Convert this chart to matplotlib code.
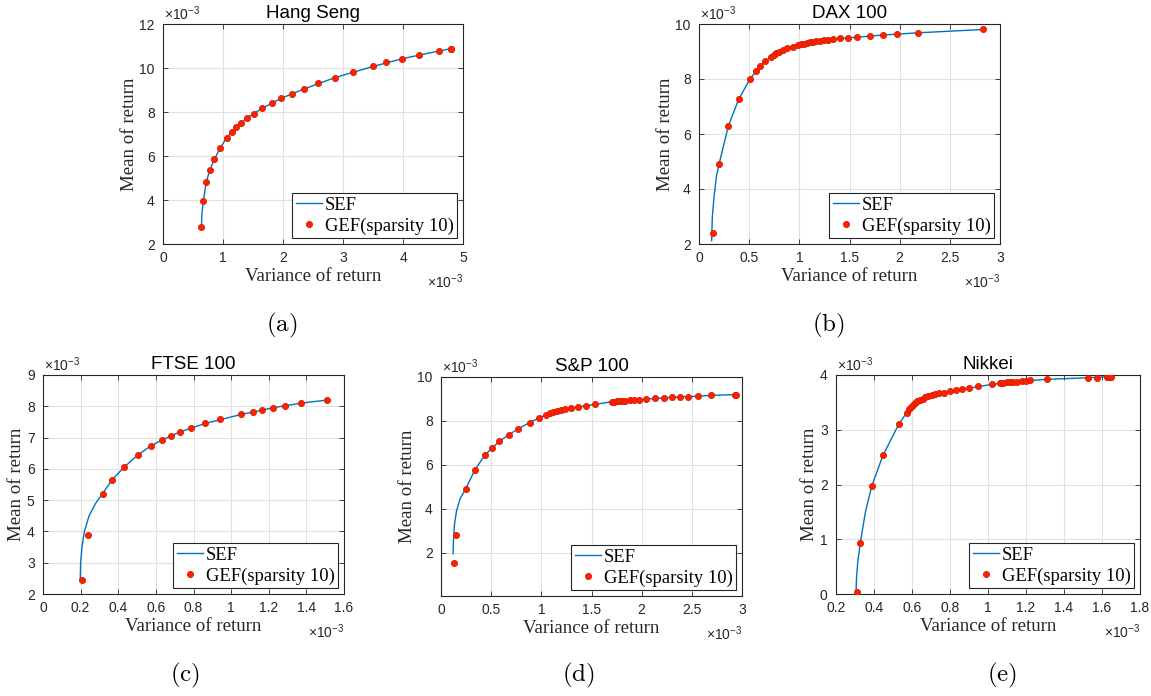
import matplotlib
matplotlib.use("Agg")
import matplotlib.pyplot as plt
from matplotlib.ticker import FuncFormatter

# ---------------- data (values in units of 1e-3) ----------------
titles = ["Hang Seng", "DAX 100", "FTSE 100", "S&P 100", "Nikkei"]
panel_tags = ["(a)", "(b)", "(c)", "(d)", "(e)"]

# Hang Seng
hs_gef_x = [0.639, 0.672, 0.722, 0.783, 0.856, 0.95, 1.061, 1.15, 1.217, 1.294, 1.394, 1.517,
            1.65, 1.817, 1.967, 2.144, 2.344, 2.583, 2.861, 3.172, 3.5, 3.722, 3.983, 4.261,
            4.594, 4.794, 4.80]
hs_gef_y = [2.77, 3.97, 4.84, 5.38, 5.85, 6.35, 6.83, 7.11, 7.31, 7.51, 7.72, 7.93,
            8.16, 8.42, 8.62, 8.83, 9.04, 9.30, 9.56, 9.83, 10.07, 10.25, 10.42, 10.59,
            10.77, 10.87, 10.88]
hs_sef_x = [0.64, 0.65, 0.672, 0.722, 0.783, 0.856, 0.95, 1.061, 1.217, 1.394, 1.65, 1.967,
            2.344, 2.861, 3.5, 3.983, 4.594, 4.80]
hs_sef_y = [2.77, 3.40, 3.97, 4.84, 5.38, 5.85, 6.35, 6.83, 7.31, 7.72, 8.16, 8.62,
            9.04, 9.56, 10.07, 10.42, 10.77, 10.88]

# DAX 100
dax_gef_x = [0.140, 0.2, 0.293, 0.396, 0.509, 0.572, 0.609, 0.662, 0.718, 0.745, 0.772, 0.801,
             0.835, 0.881, 0.934, 0.988, 1.021, 1.048, 1.078, 1.107, 1.137, 1.171, 1.207,
             1.247, 1.29, 1.334, 1.41, 1.487, 1.576, 1.703, 1.836, 1.972, 2.185, 2.827]
dax_gef_y = [2.40, 4.91, 6.30, 7.27, 8.0, 8.30, 8.47, 8.65, 8.81, 8.88, 8.94, 9.00,
             9.05, 9.11, 9.17, 9.23, 9.26, 9.28, 9.31, 9.33, 9.35, 9.38, 9.39,
             9.41, 9.43, 9.44, 9.48, 9.50, 9.52, 9.56, 9.60, 9.63, 9.68, 9.80]
dax_sef_x = [0.126, 0.133, 0.15, 0.173, 0.2, 0.293, 0.396, 0.509, 0.572, 0.662, 0.745, 0.835,
             0.934, 1.048, 1.171, 1.29, 1.41, 1.576, 1.836, 2.185, 2.827]
dax_sef_y = [2.12, 3.0, 3.72, 4.45, 4.91, 6.30, 7.27, 8.0, 8.30, 8.65, 8.88, 9.05,
             9.17, 9.28, 9.38, 9.43, 9.48, 9.52, 9.60, 9.68, 9.80]

# FTSE 100
ftse_gef_x = [0.205, 0.239, 0.317, 0.366, 0.430, 0.506, 0.572, 0.635, 0.678, 0.727, 0.789,
              0.862, 0.943, 1.054, 1.116, 1.165, 1.222, 1.286, 1.370, 1.512]
ftse_gef_y = [2.45, 3.88, 5.21, 5.64, 6.05, 6.45, 6.73, 6.93, 7.05, 7.18, 7.31,
              7.45, 7.59, 7.74, 7.82, 7.88, 7.95, 8.01, 8.10, 8.20]
ftse_sef_x = [0.198, 0.2, 0.207, 0.22, 0.245, 0.28, 0.317, 0.366, 0.43, 0.506, 0.572, 0.635,
              0.727, 0.862, 1.054, 1.222, 1.370, 1.512]
ftse_sef_y = [2.45, 3.0, 3.5, 4.0, 4.5, 4.9, 5.21, 5.64, 6.05, 6.45, 6.73, 6.93,
              7.18, 7.45, 7.74, 7.95, 8.10, 8.20]

# S&P 100
sp_gef_x = [0.130, 0.146, 0.246, 0.336, 0.435, 0.505, 0.581, 0.674, 0.767, 0.884, 0.980,
            1.050, 1.083, 1.120, 1.153, 1.193, 1.239, 1.296, 1.365, 1.445, 1.532,
            1.70, 1.72, 1.75, 1.77, 1.80, 1.83, 1.88, 1.92, 1.97, 2.04, 2.13, 2.22,
            2.30, 2.38, 2.46, 2.56, 2.69, 2.93, 2.94]
sp_gef_y = [1.53, 2.82, 4.90, 5.75, 6.43, 6.75, 7.07, 7.37, 7.64, 7.92, 8.15,
            8.28, 8.36, 8.42, 8.46, 8.51, 8.56, 8.60, 8.65, 8.69, 8.75,
            8.87, 8.88, 8.89, 8.90, 8.91, 8.92, 8.94, 8.95, 8.97, 9.00, 9.03, 9.05,
            9.07, 9.09, 9.11, 9.13, 9.16, 9.20, 9.20]
sp_sef_x = [0.12, 0.125, 0.135, 0.155, 0.19, 0.246, 0.336, 0.435, 0.581, 0.767, 0.98, 1.193,
            1.445, 1.70, 1.97, 2.30, 2.69, 2.94]
sp_sef_y = [1.95, 2.6, 3.3, 3.9, 4.45, 4.90, 5.75, 6.43, 7.07, 7.64, 8.15, 8.51,
            8.69, 8.87, 8.97, 9.07, 9.16, 9.20]

# Nikkei
nk_gef_x = [0.309, 0.328, 0.388, 0.447, 0.530, 0.572, 0.584, 0.593, 0.604, 0.616, 0.628,
            0.642, 0.656, 0.670, 0.686, 0.704, 0.723, 0.744, 0.768, 0.800, 0.832, 0.863,
            0.898, 0.949, 1.023, 1.063, 1.081, 1.098, 1.116, 1.133, 1.151, 1.177, 1.200,
            1.221, 1.309, 1.528, 1.575, 1.625, 1.638, 1.645]
nk_gef_y = [0.04, 0.94, 1.97, 2.53, 3.10, 3.31, 3.37, 3.42, 3.46, 3.49, 3.52,
            3.55, 3.57, 3.59, 3.61, 3.63, 3.65, 3.67, 3.68, 3.70, 3.72, 3.74,
            3.76, 3.79, 3.83, 3.85, 3.855, 3.87, 3.87, 3.88, 3.88, 3.89, 3.89,
            3.90, 3.92, 3.95, 3.95, 3.96, 3.97, 3.97]
nk_sef_x = [0.305, 0.308, 0.315, 0.328, 0.355, 0.388, 0.447, 0.530, 0.572, 0.604, 0.656,
            0.723, 0.800, 0.898, 1.023, 1.151, 1.309, 1.528, 1.645]
nk_sef_y = [0.0, 0.3, 0.6, 0.94, 1.5, 1.97, 2.53, 3.10, 3.31, 3.46, 3.57,
            3.65, 3.70, 3.76, 3.83, 3.88, 3.92, 3.95, 3.97]

xlims = [(0, 5), (0, 3), (0, 1.6), (0, 3), (0.2, 1.8)]
ylims = [(2, 12), (2, 10), (2, 9), (0.02, 10), (0, 4)]
xticks = [[0, 1, 2, 3, 4, 5], [0, 0.5, 1, 1.5, 2, 2.5, 3],
          [0, 0.2, 0.4, 0.6, 0.8, 1, 1.2, 1.4, 1.6], [0, 0.5, 1, 1.5, 2, 2.5, 3],
          [0.2, 0.4, 0.6, 0.8, 1, 1.2, 1.4, 1.6, 1.8]]
yticks = [[2, 4, 6, 8, 10, 12], [2, 4, 6, 8, 10], [2, 3, 4, 5, 6, 7, 8, 9],
          [2, 4, 6, 8, 10], [0, 1, 2, 3, 4]]

gef_x = [hs_gef_x, dax_gef_x, ftse_gef_x, sp_gef_x, nk_gef_x]
gef_y = [hs_gef_y, dax_gef_y, ftse_gef_y, sp_gef_y, nk_gef_y]
sef_x = [hs_sef_x, dax_sef_x, ftse_sef_x, sp_sef_x, nk_sef_x]
sef_y = [hs_sef_y, dax_sef_y, ftse_sef_y, sp_sef_y, nk_sef_y]

# ---------------- layout (pixels) ----------------
W, H = 1151, 696
boxes = [(163, 463, 24, 244), (699, 1000, 24, 244), (43, 344, 375, 594),
         (441, 742, 377, 596), (836, 1140, 375, 594)]
tag_pos = [(282, 325), (828, 325), (185, 675), (578, 675), (1002, 675)]

DARK = "#262626"
SANS = "Liberation Sans"
SERIF = "Liberation Serif"

fig = plt.figure(figsize=(W / 100, H / 100), dpi=100)
fmt = FuncFormatter(lambda v, p: "%g" % v)

for i in range(5):
    l, r, t, b = boxes[i]
    ax = fig.add_axes([l / W, 1 - b / H, (r - l) / W, (b - t) / H])
    ax.set_axisbelow(True)
    ax.grid(True, color="#e1e1e1", linewidth=0.8)
    ln, = ax.plot(sef_x[i], sef_y[i], color="#0072BD", linewidth=1.0, label="SEF", zorder=2)
    mk, = ax.plot(gef_x[i], gef_y[i], linestyle="none", marker="o", markersize=4.4,
                  markerfacecolor="#ff2000", markeredgecolor="#d81c00", markeredgewidth=0.6,
                  label="GEF(sparsity 10)", zorder=3)
    ax.set_xlim(*xlims[i])
    ax.set_ylim(*ylims[i])
    ax.set_xticks(xticks[i])
    ax.set_yticks(yticks[i])
    ax.xaxis.set_major_formatter(fmt)
    ax.yaxis.set_major_formatter(fmt)
    ax.tick_params(direction="in", length=3.5, width=0.6, top=True, right=True,
                   colors=DARK, labelsize=10)
    ax.tick_params(axis="x", pad=5)
    ax.tick_params(axis="y", pad=6)
    for lab in ax.get_xticklabels() + ax.get_yticklabels():
        lab.set_family(SANS)
    for sp in ax.spines.values():
        sp.set_color(DARK)
        sp.set_linewidth(0.8)
    ax.set_title(titles[i], family=SANS, fontsize=13.5, color="black", pad=4)
    ax.set_xlabel("Variance of return", family=SERIF, fontsize=13.6, color=DARK, labelpad=2)
    ax.set_ylabel("Mean of return", family=SERIF, fontsize=13.6, color=DARK, labelpad=1)
    leg = ax.legend(handles=[ln, mk], loc="lower right", fancybox=False, framealpha=1,
                    edgecolor=DARK, prop={"family": SERIF, "size": 13.4},
                    handlelength=1.4, handletextpad=0.15, labelspacing=0.2,
                    borderpad=0.2, borderaxespad=0.3)
    leg.get_frame().set_linewidth(0.8)
    # exponent labels
    ax.annotate(r"$\mathregular{\times10^{-3}}$", xy=(0, 1), xycoords="axes fraction",
                xytext=(1, 1), textcoords="offset pixels", ha="left", va="bottom",
                family=SANS, fontsize=10, color=DARK)
    ax.annotate(r"$\mathregular{\times10^{-3}}$", xy=(1, 0), xycoords="axes fraction",
                xytext=(0, -28), textcoords="offset pixels", ha="right", va="top",
                family=SANS, fontsize=10, color=DARK)
    tx, ty = tag_pos[i]
    fig.text(tx / W, 1 - ty / H, r"$\mathrm{" + panel_tags[i] + "}$", math_fontfamily="cm",
             fontsize=18, ha="center", va="center", color="black")

fig.savefig("out.png", dpi=100)
